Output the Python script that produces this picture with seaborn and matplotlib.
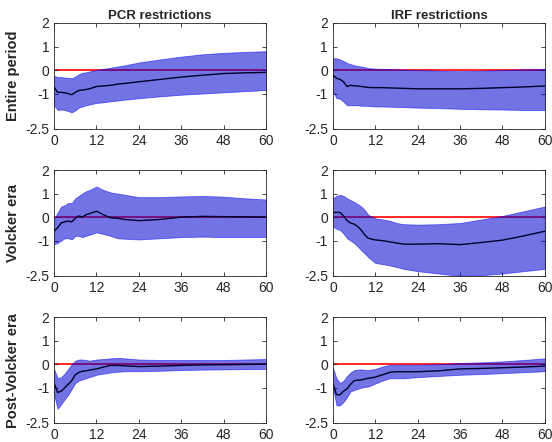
import numpy as np
import pandas as pd
import matplotlib
matplotlib.use('Agg')
import matplotlib.pyplot as plt
import seaborn as sns

horizon = [0, 1, 2, 3, 4, 5, 6, 7, 8, 9, 10, 12, 14, 16, 18, 20, 24, 30, 36, 42, 48, 54, 60]

col_titles = ['PCR restrictions', 'IRF restrictions']
row_titles = ['Entire period', 'Volcker era', 'Post-Volcker era']

# entire period, PCR
pcr_all_mid = [-0.72, -0.95, -0.95, -0.97, -1.0, -1.05, -0.95, -0.87, -0.85, -0.83, -0.8, -0.7, -0.68, -0.65, -0.6, -0.57, -0.5, -0.4, -0.3, -0.22, -0.15, -0.12, -0.1]
pcr_all_hi = [-0.25, -0.3, -0.3, -0.32, -0.33, -0.35, -0.28, -0.18, -0.12, -0.1, -0.06, 0.0, 0.05, 0.1, 0.15, 0.2, 0.32, 0.45, 0.57, 0.67, 0.73, 0.77, 0.8]
pcr_all_lo = [-1.5, -1.7, -1.68, -1.7, -1.75, -1.8, -1.72, -1.6, -1.55, -1.5, -1.47, -1.4, -1.37, -1.33, -1.3, -1.26, -1.2, -1.12, -1.05, -1.0, -0.95, -0.9, -0.85]

# entire period, IRF
irf_all_mid = [-0.2, -0.35, -0.4, -0.5, -0.7, -0.65, -0.67, -0.68, -0.7, -0.72, -0.74, -0.75, -0.75, -0.76, -0.77, -0.78, -0.8, -0.8, -0.8, -0.78, -0.75, -0.72, -0.68]
irf_all_hi = [0.5, 0.5, 0.45, 0.38, 0.3, 0.25, 0.2, 0.17, 0.15, 0.12, 0.08, 0.06, 0.05, 0.04, 0.03, 0.02, 0.0, -0.03, -0.05, -0.03, 0.0, 0.03, 0.05]
irf_all_lo = [-0.9, -1.2, -1.22, -1.35, -1.5, -1.5, -1.5, -1.5, -1.52, -1.52, -1.53, -1.55, -1.55, -1.56, -1.57, -1.58, -1.6, -1.62, -1.65, -1.67, -1.68, -1.7, -1.7]

# Volcker era, PCR
pcr_vol_mid = [-0.6, -0.45, -0.25, -0.2, -0.17, -0.2, -0.05, 0.05, 0.0, 0.1, 0.15, 0.25, 0.1, -0.03, -0.05, -0.1, -0.15, -0.1, 0.0, 0.03, 0.02, 0.01, 0.0]
pcr_vol_hi = [-0.1, 0.2, 0.45, 0.5, 0.6, 0.6, 0.8, 0.9, 1.0, 1.1, 1.15, 1.3, 1.15, 1.05, 1.0, 0.95, 0.85, 0.85, 0.88, 0.9, 0.87, 0.8, 0.75]
pcr_vol_lo = [-1.15, -1.1, -1.0, -0.9, -0.9, -0.95, -0.8, -0.8, -0.85, -0.8, -0.75, -0.65, -0.72, -0.8, -0.9, -0.92, -0.95, -0.9, -0.85, -0.83, -0.85, -0.85, -0.85]

# Volcker era, IRF
irf_vol_mid = [0.2, 0.2, 0.2, 0.05, -0.15, -0.25, -0.3, -0.4, -0.55, -0.75, -0.9, -0.97, -1.0, -1.05, -1.1, -1.15, -1.15, -1.13, -1.17, -1.08, -0.98, -0.8, -0.6]
irf_vol_hi = [0.8, 0.9, 0.95, 0.9, 0.8, 0.72, 0.65, 0.55, 0.45, 0.3, 0.1, -0.05, -0.1, -0.15, -0.25, -0.3, -0.32, -0.3, -0.25, -0.1, 0.05, 0.25, 0.45]
irf_vol_lo = [-0.4, -0.5, -0.55, -0.7, -0.9, -1.0, -1.1, -1.25, -1.4, -1.55, -1.7, -1.95, -2.0, -2.05, -2.12, -2.2, -2.3, -2.4, -2.5, -2.47, -2.4, -2.3, -2.2]

# post-Volcker era, PCR
pcr_post_mid = [-0.8, -1.2, -1.15, -1.0, -0.85, -0.7, -0.45, -0.35, -0.3, -0.28, -0.25, -0.2, -0.12, -0.05, -0.05, -0.07, -0.1, -0.08, -0.05, -0.03, -0.02, -0.01, 0.0]
pcr_post_hi = [-0.2, -0.6, -0.55, -0.4, -0.2, 0.0, 0.15, 0.2, 0.2, 0.18, 0.15, 0.2, 0.22, 0.25, 0.27, 0.25, 0.2, 0.18, 0.18, 0.18, 0.18, 0.2, 0.22]
pcr_post_lo = [-1.3, -1.9, -1.7, -1.5, -1.3, -1.05, -0.8, -0.7, -0.65, -0.6, -0.55, -0.45, -0.4, -0.35, -0.32, -0.3, -0.3, -0.28, -0.25, -0.23, -0.22, -0.21, -0.2]

# post-Volcker era, IRF
irf_post_mid = [-0.8, -1.3, -1.3, -1.15, -1.05, -0.85, -0.7, -0.68, -0.67, -0.63, -0.6, -0.55, -0.45, -0.35, -0.32, -0.32, -0.32, -0.28, -0.2, -0.18, -0.15, -0.12, -0.08]
irf_post_hi = [-0.15, -0.6, -0.8, -0.7, -0.5, -0.35, -0.25, -0.23, -0.22, -0.24, -0.25, -0.2, -0.1, -0.03, -0.02, -0.02, -0.02, 0.0, 0.05, 0.08, 0.12, 0.18, 0.25]
irf_post_lo = [-1.0, -1.75, -1.75, -1.6, -1.4, -1.15, -1.1, -1.05, -1.0, -0.97, -0.95, -0.82, -0.7, -0.6, -0.6, -0.6, -0.55, -0.5, -0.45, -0.42, -0.38, -0.34, -0.3]

panels = [
    [(pcr_all_mid, pcr_all_lo, pcr_all_hi), (irf_all_mid, irf_all_lo, irf_all_hi)],
    [(pcr_vol_mid, pcr_vol_lo, pcr_vol_hi), (irf_vol_mid, irf_vol_lo, irf_vol_hi)],
    [(pcr_post_mid, pcr_post_lo, pcr_post_hi), (irf_post_mid, irf_post_lo, irf_post_hi)],
]

sns.set_style('ticks')
plt.rcParams['font.family'] = ['Liberation Sans', 'DejaVu Sans']

fig, axes = plt.subplots(3, 2, figsize=(5.52, 4.42), dpi=100)
fig.subplots_adjust(left=0.098, right=0.987, top=0.948, bottom=0.043,
                    wspace=0.316, hspace=0.39)

for i in range(3):
    for j in range(2):
        ax = axes[i, j]
        mid, lo, hi = panels[i][j]
        df = pd.DataFrame({'h': horizon, 'mid': mid, 'lo': lo, 'hi': hi})
        # zero line goes under the band so it turns purple inside it
        ax.axhline(0, color='#ff0000', lw=1.2, zorder=0.5)
        ax.fill_between(df['h'], df['lo'], df['hi'], facecolor=(0, 0, 0.8),
                        alpha=0.55, edgecolor=(0, 0, 1), lw=0.6, zorder=2.5)
        sns.lineplot(data=df, x='h', y='mid', ax=ax, color='#00002a', lw=1.0, zorder=3)
        ax.set_xlim(0, 60)
        ax.set_ylim(-2.5, 2)
        ax.set_xticks([0, 12, 24, 36, 48, 60])
        ax.set_yticks([-2.5, -1, 0, 1, 2])
        ax.set_yticklabels(['-2.5', '-1', '0', '1', '2'])
        ax.set_xlabel('')
        ax.set_ylabel('')
        ax.tick_params(direction='in', top=True, right=True, length=3,
                       labelsize=10, colors='#262626', width=0.6)
        for s in ax.spines.values():
            s.set_color('#262626')
            s.set_linewidth(0.6)
            s.set_zorder(4)
        if i == 0:
            ax.set_title(col_titles[j], fontsize=9.5, fontweight='bold', pad=3)
        if j == 0:
            ax.set_ylabel(row_titles[i], fontsize=10.5, fontweight='bold', labelpad=4)

plt.savefig('out.png', dpi=100)
